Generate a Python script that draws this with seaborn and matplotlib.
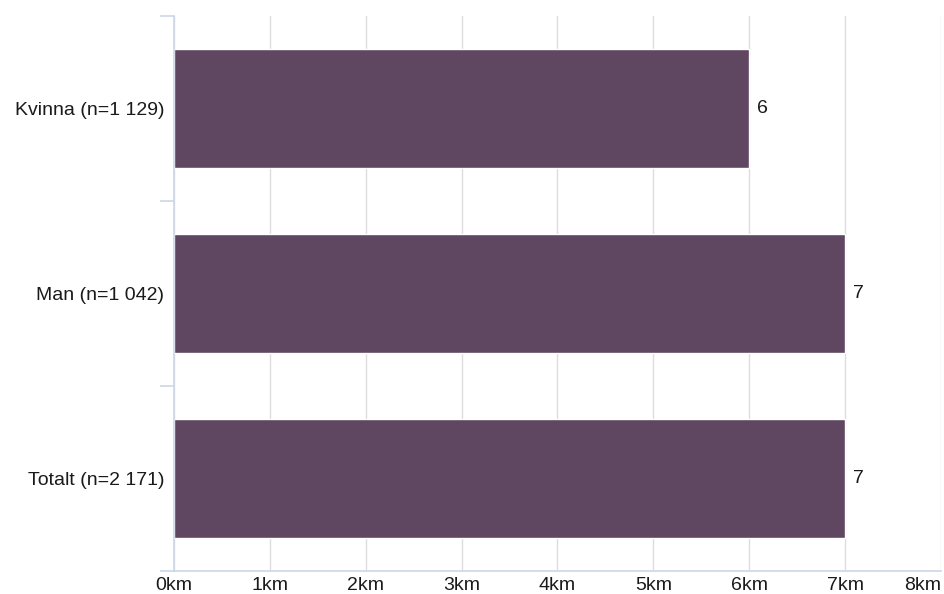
import seaborn as sns
import matplotlib.pyplot as plt
import pandas as pd
import numpy as np

# Data
categories = ["Kvinna (n=1 129)", "Man (n=1 042)", "Totalt (n=2 171)"]
values = [6, 7, 7]
x_ticks = [0, 1, 2, 3, 4, 5, 6, 7, 8]

df = pd.DataFrame({"group": categories, "km": values})

sns.set_style("white")
plt.rcParams['font.family'] = ['Liberation Sans', 'DejaVu Sans']

bar_color = "#5F4661"
axis_color = "#CCD7E6"
grid_color = "#DDDDDD"
text_color = "#1a1a1a"

fig = plt.figure(figsize=(9.44, 5.94), dpi=100)
ax = fig.add_axes([0.1843, 0.0387, 0.8125, 0.9343])

sns.barplot(data=df, x="km", y="group", orient="h", color=bar_color,
            width=0.64, saturation=1, ax=ax, zorder=3)

ax.set_xlim(0, 8)
ax.set_ylim(len(categories) - 0.5, -0.5)
ax.set_xticks(x_ticks)
ax.set_xticklabels([f"{t}km" for t in x_ticks])
ax.set_xlabel("")
ax.set_ylabel("")

# Last tick label is pulled inside the figure
ax.get_xticklabels()[-1].set_horizontalalignment("right")
ax.get_xticklabels()[-1].set_x(8 - 0.02)

# Vertical gridlines
ax.grid(axis="x", color=grid_color, linewidth=1, zorder=0)
ax.grid(axis="y", visible=False)

for side in ["top", "right"]:
    ax.spines[side].set_visible(False)
for side in ["left", "bottom"]:
    ax.spines[side].set_color(axis_color)
    ax.spines[side].set_linewidth(1.2)
    ax.spines[side].set_zorder(4)

# Category boundary ticks on the y axis
ax.set_yticks(np.arange(-0.5, len(categories)), minor=True)
ax.tick_params(axis="y", which="minor", length=10, width=1.2, color=axis_color, left=True)
ax.tick_params(axis="y", which="major", length=0, pad=7, labelsize=14, labelcolor=text_color)
ax.tick_params(axis="x", length=0, pad=4, labelsize=14, labelcolor=text_color)

# Value labels next to bar ends
for i, v in enumerate(values):
    ax.text(v + 0.08, i, f"{v}", va="center", ha="left", fontsize=14, color=text_color, zorder=5)

fig.savefig("out.png", dpi=100)
